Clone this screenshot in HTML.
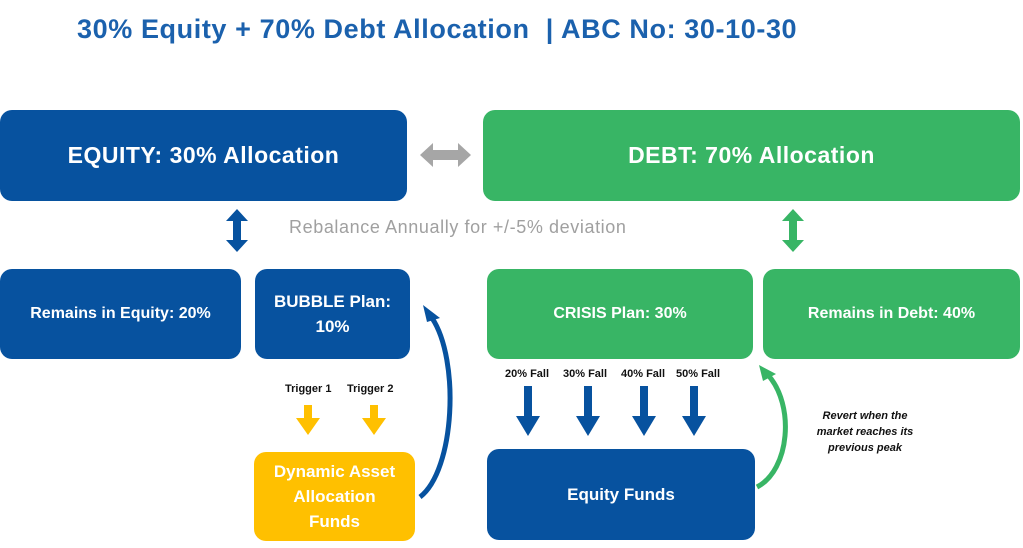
<!DOCTYPE html>
<html><head><style>
body{margin:0;width:1023px;height:548px;background:#fff;position:relative;overflow:hidden;font-family:"Liberation Sans",sans-serif}
.b{position:absolute;border-radius:12px;color:#fff;font-weight:bold;display:flex;align-items:center;justify-content:center;text-align:center}
.bl{background:#07529f}.gr{background:#38b565}.ye{background:#ffc000}
.t{position:absolute;font-weight:bold;font-size:11px;color:#111}
</style></head><body>
<div style="position:absolute;left:77px;top:14px;font-size:27px;letter-spacing:0.6px;font-weight:bold;color:#1b61ad;white-space:nowrap">30% Equity + 70% Debt Allocation &nbsp;| ABC No: 30-10-30</div>
<div class="b bl" style="left:0;top:110px;width:407px;height:91px;font-size:23px;letter-spacing:0.5px">EQUITY: 30% Allocation</div>
<div class="b gr" style="left:483px;top:110px;width:537px;height:91px;font-size:23px;letter-spacing:0.5px">DEBT: 70% Allocation</div>
<div style="position:absolute;left:289px;top:217px;font-size:18px;letter-spacing:0.6px;color:#a0a0a0;white-space:nowrap">Rebalance Annually for +/-5% deviation</div>
<div class="b bl" style="left:0;top:269px;width:241px;height:90px;font-size:16px">Remains in Equity: 20%</div>
<div class="b bl" style="left:255px;top:269px;width:155px;height:90px;font-size:17px;line-height:25px">BUBBLE Plan:<br>10%</div>
<div class="b gr" style="left:487px;top:269px;width:266px;height:90px;font-size:16px">CRISIS Plan: 30%</div>
<div class="b gr" style="left:763px;top:269px;width:257px;height:90px;font-size:16px">Remains in Debt: 40%</div>
<div class="b ye" style="left:254px;top:452px;width:161px;height:89px;font-size:17px;line-height:25px">Dynamic Asset<br>Allocation<br>Funds</div>
<div class="b bl" style="left:487px;top:449px;width:268px;height:91px;font-size:17px">Equity Funds</div>
<div class="t" style="left:285px;top:383px">Trigger 1</div>
<div class="t" style="left:347px;top:383px">Trigger 2</div>
<div class="t" style="left:505px;top:368px">20% Fall</div>
<div class="t" style="left:563px;top:368px">30% Fall</div>
<div class="t" style="left:621px;top:368px">40% Fall</div>
<div class="t" style="left:676px;top:368px">50% Fall</div>
<div style="position:absolute;left:808px;top:408px;width:114px;text-align:center;font-size:11px;font-weight:bold;font-style:italic;line-height:16px;color:#111">Revert when the market reaches its previous peak</div>
<svg width="1023" height="548" style="position:absolute;left:0;top:0">
<polygon points="420,155 433,143 433,150 458,150 458,143 471,155 458,167 458,160 433,160 433,167" fill="#a6a6a6"/>
<polygon points="237,209 248,221 241,221 241,240 248,240 237,252 226,240 233,240 233,221 226,221" fill="#07529f"/>
<polygon points="793,209 804,221 797,221 797,240 804,240 793,252 782,240 789,240 789,221 782,221" fill="#38b565"/>
<g fill="#ffc000"><polygon points="304,405 312,405 312,418 320,418 308,435 296,418 304,418"/><polygon points="370,405 378,405 378,418 386,418 374,435 362,418 370,418"/></g>
<g fill="#07529f">
<polygon points="524,386 532,386 532,416 540,416 528,436 516,416 524,416"/>
<polygon points="584,386 592,386 592,416 600,416 588,436 576,416 584,416"/>
<polygon points="640,386 648,386 648,416 656,416 644,436 632,416 640,416"/>
<polygon points="690,386 698,386 698,416 706,416 694,436 682,416 690,416"/>
</g>
<path d="M420,497 C455,470 460,360 432,318" stroke="#07529f" stroke-width="5" fill="none"/>
<polygon points="423,305 440,318 427,322" fill="#07529f"/>
<path d="M757,487 C790,470 795,405 768,375" stroke="#38b565" stroke-width="5" fill="none"/>
<polygon points="759,365 776,374 763,381" fill="#38b565"/>
</svg>
</body></html>
